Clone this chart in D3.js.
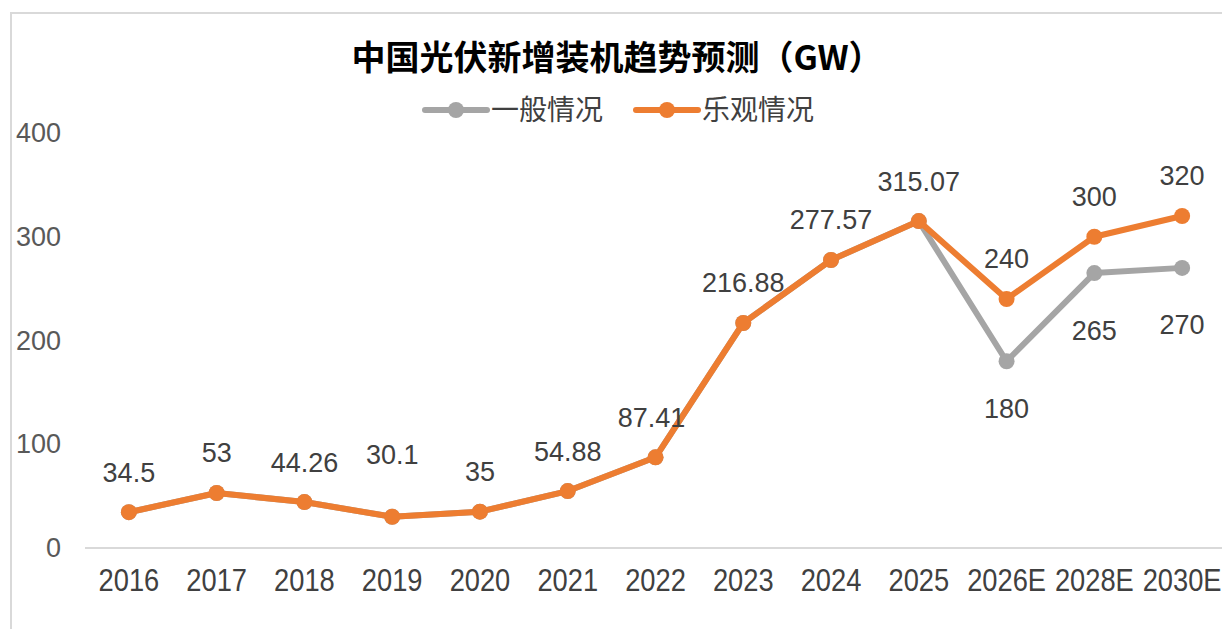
<!DOCTYPE html>
<html>
<head>
<meta charset="utf-8">
<script src="https://cdn.jsdelivr.net/npm/d3@7"></script>
<style>
  body { margin: 0; background: #fff; }
</style>
</head>
<body>
<div id="chart"></div>
<script>
const years = ["2016", "2017", "2018", "2019", "2020", "2021", "2022", "2023", "2024", "2025", "2026E", "2028E", "2030E"];
const normalCase = [34.5, 53, 44.26, 30.1, 35, 54.88, 87.41, 216.88, 277.57, 315.07, 180, 265, 270];
const optimisticCase = [34.5, 53, 44.26, 30.1, 35, 54.88, 87.41, 216.88, 277.57, 315.07, 240, 300, 320];
const yTicks = [0, 100, 200, 300, 400];
const seriesNames = ["一般情况", "乐观情况"];

const width = 1222, height = 629;
const grey = "#a5a5a5", orange = "#ed7d31";
const latin = "'Liberation Sans', Arial, sans-serif";
const cjk = "'Noto Sans CJK SC', sans-serif";

const svg = d3.select("#chart").append("svg")
    .attr("width", width)
    .attr("height", height);

// chart frame (cropped on right and bottom)
svg.append("path")
    .attr("d", "M11," + height + "V13H" + width)
    .attr("fill", "none")
    .attr("stroke", "#d9d9d9")
    .attr("stroke-width", 2);

const x = d3.scaleBand().domain(years).range([85, 1226]);
const y = d3.scaleLinear().domain([0, 400]).range([548, 133]);
const cx = d => x(d) + x.bandwidth() / 2;

// title
svg.append("text")
    .style("font-family", cjk)
    .attr("x", 617)
    .attr("y", 70)
    .attr("text-anchor", "middle")
    .attr("font-size", 34)
    .attr("font-weight", "bold")
    .attr("fill", "#000")
    .text("中国光伏新增装机趋势预测（GW）");

// legend
const legend = [
  {name: seriesNames[0], color: grey, x: 425},
  {name: seriesNames[1], color: orange, x: 636}
];
legend.forEach(function(l) {
  const g = svg.append("g").attr("transform", "translate(" + l.x + ",110)");
  g.append("line").attr("x1", 0).attr("x2", 62)
      .attr("stroke", l.color).attr("stroke-width", 6).attr("stroke-linecap", "round");
  g.append("circle").attr("cx", 31).attr("r", 8).attr("fill", l.color);
  g.append("text").style("font-family", cjk)
      .attr("x", 66).attr("dy", "0.35em")
      .attr("font-size", 28).attr("fill", "#404040")
      .text(l.name);
});

// y axis labels (no axis line)
const yAxis = svg.append("g")
    .attr("transform", "translate(61,0)")
    .call(d3.axisLeft(y).tickValues(yTicks).tickSize(0).tickPadding(0));
yAxis.select(".domain").remove();
yAxis.selectAll("text")
    .style("font-family", latin)
    .attr("font-size", 27)
    .attr("fill", "#595959");

// x axis - labels are a bit condensed in the original
const xAxis = svg.append("g")
    .attr("transform", "translate(0,548)")
    .call(d3.axisBottom(x).tickSize(0).tickPadding(21));
xAxis.select(".domain").attr("stroke", "#d9d9d9").attr("stroke-width", 2)
    .attr("d", "M85,0H" + width);
xAxis.selectAll("text")
    .style("font-family", latin)
    .attr("font-size", 31)
    .attr("fill", "#404040")
    .attr("dy", "0.71em")
    .attr("transform", "scale(0.88,1)");

const line = d3.line()
    .x((d, i) => cx(years[i]))
    .y(d => y(d));

function drawSeries(values, color) {
  svg.append("path")
      .datum(values)
      .attr("fill", "none")
      .attr("stroke", color)
      .attr("stroke-width", 6)
      .attr("stroke-linejoin", "round")
      .attr("d", line);
  svg.append("g").selectAll("circle")
      .data(values)
      .join("circle")
      .attr("cx", (d, i) => cx(years[i]))
      .attr("cy", d => y(d))
      .attr("r", 8)
      .attr("fill", color);
}

drawSeries(normalCase, grey);
drawSeries(optimisticCase, orange);

// data labels
const labelStyle = sel => sel
    .style("font-family", latin)
    .attr("text-anchor", "middle")
    .attr("font-size", 27)
    .attr("fill", "#404040");

// orange labels above the points; 2019 sits a bit higher
svg.append("g").selectAll("text")
    .data(optimisticCase)
    .join("text")
    .call(labelStyle)
    .attr("x", (d, i) => cx(years[i]) - (years[i] === "2022" ? 4 : 0))
    .attr("y", (d, i) => y(d) - (years[i] === "2019" ? 62 : 40))
    .attr("dy", "0.35em")
    .text(d => d);

// grey labels only for the forecast years, below the points
const offsetsBelow = {"2026E": 47, "2028E": 57, "2030E": 57};
svg.append("g").selectAll("text")
    .data(normalCase.map((v, i) => ({year: years[i], v: v})).filter(d => d.year in offsetsBelow))
    .join("text")
    .call(labelStyle)
    .attr("x", d => cx(d.year))
    .attr("y", d => y(d.v) + offsetsBelow[d.year])
    .attr("dy", "0.35em")
    .text(d => d.v);
</script>
</body>
</html>
